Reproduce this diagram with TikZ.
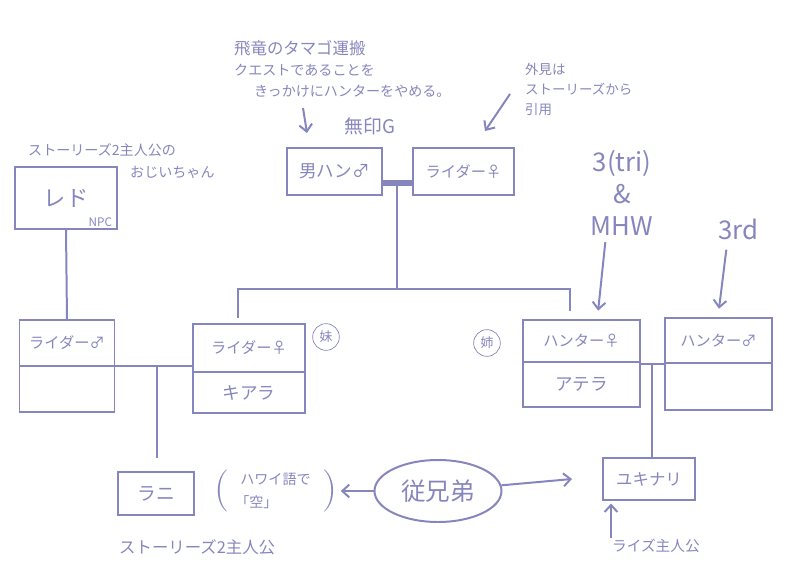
\documentclass[tikz,border=0pt]{standalone}
\usepackage{fontspec}
\setmainfont{Noto Sans CJK JP}
\newfontfamily\lmparen{Latin Modern Roman}
\usetikzlibrary{positioning,arrows.meta,shapes.geometric}
\definecolor{pen}{RGB}{134,134,190}

\tikzset{
  box/.style={draw=pen, line width=1.7pt, text=pen, inner sep=0pt, outer sep=0pt,
    font=\fontsize{13}{15}\selectfont},
  note/.style={text=pen, inner sep=0pt, align=left,
    font=\fontsize{12}{18}\selectfont},
  paren/.style={text=pen, inner sep=0pt, font=\lmparen\fontsize{36}{36}\selectfont},
  link/.style={draw=pen, line width=1.7pt},
  arr/.style={link, -{Straight Barb[length=6pt,width=11pt]}},
  sis/.style={draw=pen, circle, line width=0.6pt, text=pen, inner sep=1pt,
    minimum size=0.8cm, font=\fontsize{11}{11}\selectfont},
}

\begin{document}
\begin{tikzpicture}[x=0.03cm, y=-0.03cm]
\useasboundingbox (0,0) rectangle (799,584);

% first generation
\node[box, minimum width=2.85cm, minimum height=1.41cm, font=\fontsize{15}{17}\selectfont] (hunterG) at (334.5,171.5) {男ハン♂};
\node[box, minimum width=3.03cm, minimum height=1.41cm] (riderF) at (463.5,171.5) {ライダー♀};
\node[note, font=\fontsize{16}{18}\selectfont] (mujirushi) at (370,126) {無印G};

% grandpa
\node[box, minimum width=3.06cm, minimum height=1.86cm, font=\fontsize{19}{21}\selectfont] (red) at (66,198) {レド};
\node[note, font=\fontsize{10}{11}\selectfont, above left=2pt and 4pt of red.south east] (npc) {NPC};
\node[note, anchor=west] (grandpaA) at (28,150) {ストーリーズ2主人公の};
\node[note, anchor=west] (grandpaB) at (130,172) {おじいちゃん};

% second generation
\node[box, minimum width=2.85cm, minimum height=1.38cm] (riderM) at (67,343) {ライダー♂};
\node[box, minimum width=2.85cm, minimum height=1.38cm, below=0pt of riderM] (riderMb) {};

\node[box, minimum width=3.36cm, minimum height=1.44cm] (kiara) at (249,348) {ライダー♀};
\node[box, minimum width=3.36cm, minimum height=1.23cm, below=0pt of kiara, font=\fontsize{15}{17}\selectfont] (kiaraB) {キアラ};
\node[sis] (imouto) at (326,337) {妹};

\node[box, minimum width=3.51cm, minimum height=1.26cm] (atera) at (581.5,341) {ハンター♀};
\node[box, minimum width=3.51cm, minimum height=1.35cm, below=0pt of atera, font=\fontsize{15}{17}\selectfont] (ateraB) {アテラ};
\node[sis] (ane) at (487,343) {姉};

\node[box, minimum width=3.21cm, minimum height=1.35cm] (hunterM) at (718.5,340.5) {ハンター♂};
\node[box, minimum width=3.21cm, minimum height=1.41cm, below=0pt of hunterM] (hunterMb) {};

% third generation
\node[box, minimum width=2.28cm, minimum height=1.29cm, font=\fontsize{16}{18}\selectfont] (rani) at (156,493.5) {ラニ};
\node[box, minimum width=2.76cm, minimum height=1.26cm, font=\fontsize{14}{16}\selectfont] (yukinari) at (649,479) {ユキナリ};
\node[draw=pen, ellipse, line width=1.7pt, text=pen, minimum width=3.81cm, minimum height=1.86cm,
  font=\fontsize{21}{23}\selectfont] (cousin) at (438,491) {従兄弟};
\node[note, font=\fontsize{12}{19}\selectfont] (hawaii) at (273,491) {\hspace{0.15cm}ハワイ語で\\「空」};
\node[paren, left=0.15cm of hawaii] (lparen) {(};
\node[paren, right=0.33cm of hawaii] (rparen) {)};
\node[note, anchor=west, font=\fontsize{14}{16}\selectfont] (ranilabel) at (119,547) {ストーリーズ2主人公};
\node[note, anchor=west, font=\fontsize{12.5}{15}\selectfont] (riselabel) at (612,546) {ライズ主人公};

% notes with arrows
\node[note, anchor=north west] (quest) at (234,40) {\fontsize{14}{18}\selectfont 飛竜のタマゴ運搬\\クエストであることを\\\hspace{0.6cm}きっかけにハンターをやめる。};
\node[note, anchor=north west, font=\fontsize{11.5}{17}\selectfont] (looks) at (525,63) {外見は\\ストーリーズから\\引用};
\node[text=pen, align=center, font=\fontsize{22}{27}\selectfont, inner sep=0pt] (tri) at (622,193) {3(tri)\\\&\\MHW};
\node[text=pen, font=\fontsize{22}{24}\selectfont, inner sep=0pt] (third) at (738,229) {3rd};

\coordinate (q1) at (303,108);
\coordinate (q2) at (307,133);
\coordinate (l1) at (510,94);
\coordinate (l2) at (485,131);
\coordinate (r1) at (611,538);

% family lines
\draw[link] (red.south) -- (riderM.north);
\coordinate (m0) at (397,183);
\coordinate (sib) at (397,289);
\draw[draw=pen, line width=5pt] (hunterG.east |- m0) -- (riderF.west |- m0);
\draw[link] (m0) -- (sib);
\draw[link, shorten >=5pt] (sib) -| ([xshift=-0.33cm]kiara.north);
\draw[link, shorten >=8pt] (sib) -| ([xshift=-0.35cm]atera.north);

\coordinate (m1) at (157,366);
\draw[link] (riderMb.north east) -- (riderMb.north east -| kiara.west);
\draw[link, shorten >=12pt] (m1) -- (m1 |- rani.north);

\coordinate (m2) at (652,364);
\draw[link] (atera.east |- m2) -- (hunterM.west |- m2);
\draw[link] (m2) -- (m2 |- yukinari.north);

% arrows
\draw[arr] (q1) -- (q2);
\draw[arr] (l1) -- (l2);
\draw[arr, shorten >=8pt] (tri.south) ++(-0.5cm,-0.2cm) -- ([xshift=0.47cm]atera.north);
\draw[arr, shorten >=8pt] (third.south) ++(-0.35cm,-0.3cm) -- ([xshift=-0.02cm]hunterM.north);
\draw[arr, shorten >=3pt] (cousin) -- (rparen);
\draw[arr] (cousin) -- ([xshift=-0.93cm]yukinari.west);
\draw[arr, shorten >=3pt] (r1) -- (r1 |- yukinari.south);
\end{tikzpicture}
\end{document}
